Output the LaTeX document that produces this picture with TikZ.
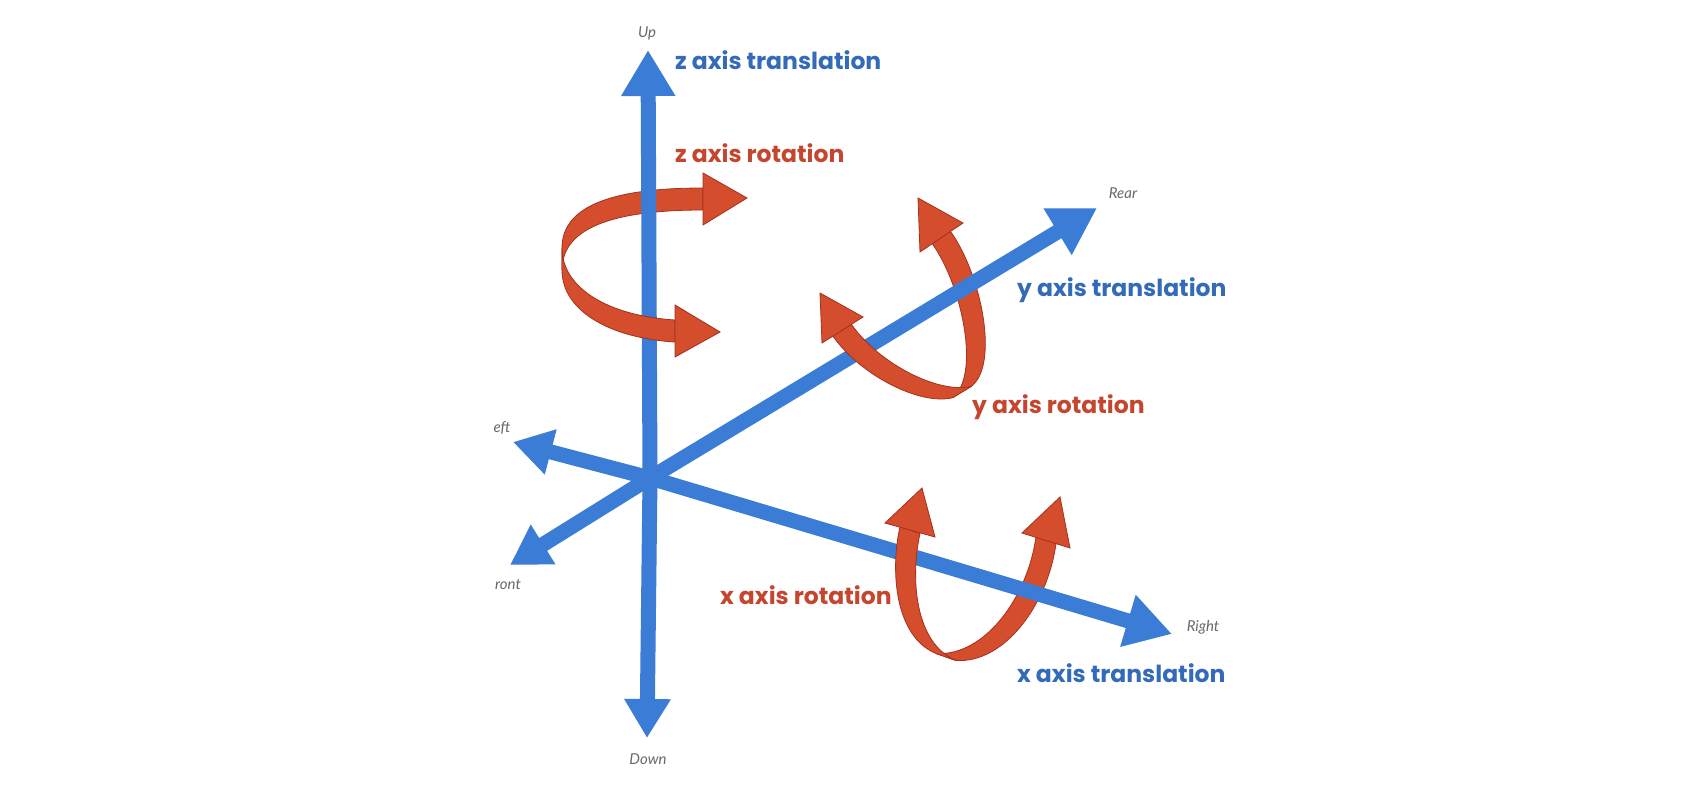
\documentclass[tikz,border=0pt]{standalone}
\usepackage{fontspec}
\setmainfont{Poppins}
\newfontfamily\lblfont{Lato}
\usetikzlibrary{arrows.meta,calc}
\definecolor{axblue}{RGB}{58,124,214}
\definecolor{rotred}{RGB}{212,78,45}
\definecolor{rotedge}{RGB}{165,48,28}
\definecolor{txblue}{RGB}{52,106,186}
\definecolor{txred}{RGB}{196,70,46}
\definecolor{lblgray}{RGB}{105,105,105}
\newcommand{\ribbonarm}[6]{%
  \filldraw[ribbon] ($(#1)+(#5,#6)$) .. controls ($(#2)+(#5,#6)$) and ($(#3)+(#5,#6)$) .. ($(#4)+(#5,#6)$)
    -- ($(#4)-(#5,#6)$) .. controls ($(#3)-(#5,#6)$) and ($(#2)-(#5,#6)$) .. ($(#1)-(#5,#6)$) -- cycle;}
\begin{document}
\begin{tikzpicture}[x=1pt,y=-1pt,
  axis/.style={draw=axblue,line width=15pt,line cap=round},
  bigtip/.style={-{Triangle[length=46pt,width=51pt]}},
  smalltip/.style={-{Triangle[length=39pt,width=44pt]}},
  ribbon/.style={fill=rotred,draw=rotedge,line width=0.8pt,line join=round},
  rhead/.style={fill=rotred,draw=rotedge,line width=0.8pt,line join=miter},
  trans/.style={text=txblue,font=\bfseries\fontsize{23.5}{28}\selectfont,anchor=west,inner sep=0pt},
  rot/.style={text=txred,font=\bfseries\fontsize{23.5}{28}\selectfont,anchor=west,inner sep=0pt},
  dirlbl/.style={text=lblgray,font=\lblfont\itshape\fontsize{15}{17}\selectfont,inner sep=0pt}]
\useasboundingbox (0,0) rectangle (1706,790);
\fill[white] (0,0) rectangle (1706,790);

% coordinates
\coordinate (O) at (650,478);
\coordinate (Up) at (648,50);
\coordinate (Dn) at (647,738);
\coordinate (Re) at (1097,208);
\coordinate (Fr) at (510,565);
\coordinate (Le) at (513,442);
\coordinate (Ri) at (1172,634);

% ---- back parts of the rotation ribbons ----
% z rotation, upper (back) arm
\ribbonarm{562,259}{562,214}{620,199}{703,199}{0}{11}
\filldraw[rhead] (703,173) -- (747,198) -- (703,225) -- cycle;
% y rotation, right (back) arm
\ribbonarm{962,392}{990,370}{972,280}{941,237}{9.4}{-5.7}
\filldraw[rhead] (920,252) -- (918,198) -- (963,223) -- cycle;
% x rotation, right (back) arm
\ribbonarm{946,657}{995,660}{1038,600}{1046,540}{10}{3.5}
\filldraw[rhead] (1022,533) -- (1060,497) -- (1070,548) -- cycle;

% ---- axes ----
\draw[axis,bigtip] (O) -- (Up);
\draw[axis,smalltip] (O) -- (Dn);
\draw[axis,bigtip] (O) -- (Re);
\draw[axis,smalltip] (O) -- (Fr);
\draw[axis,smalltip] (O) -- (Le);
\draw[axis,bigtip] (O) -- (Ri);

% ---- front parts of the rotation ribbons ----
% z rotation, lower (front) arm
\ribbonarm{562,259}{562,300}{610,327}{675,331}{0}{11}
\filldraw[rhead] (675,305) -- (720,332) -- (675,357) -- cycle;
% y rotation, left (front) arm
\ribbonarm{962,392}{930,400}{870,370}{842,330}{9.4}{-5.7}
\filldraw[rhead] (822,343) -- (820,293) -- (863,317) -- cycle;
% x rotation, left (front) arm
\ribbonarm{946,657}{905,640}{900,575}{910,530}{10}{3.5}
\filldraw[rhead] (885,523) -- (922,488) -- (935,537) -- cycle;

% ---- direction labels ----
\node[dirlbl] (lUp) at (647,33) {Up};
\node[dirlbl] (lDn) at (648,759) {Down};
\node[dirlbl] (lRe) at (1123,193) {Rear};
\node[dirlbl] (lRi) at (1203,627) {Right};
\node[dirlbl] (lLe) at (502,428) {eft};
\node[dirlbl] (lFr) at (508,585) {ront};

% ---- axis labels ----
\node[trans] (zt) at (675,60) {z axis translation};
\node[rot] (zr) at (675,153) {z axis rotation};
\node[trans] (yt) at (1017,290) {y axis translation};
\node[rot] (yr) at (972,407) {y axis rotation};
\node[rot] (xr) at (720,595) {x axis rotation};
\node[trans] (xt) at (1017,673) {x axis translation};
\end{tikzpicture}
\end{document}
